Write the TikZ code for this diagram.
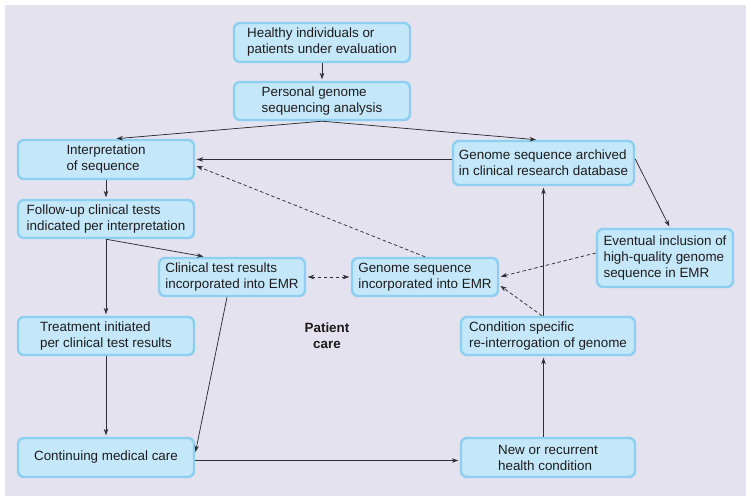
\documentclass[tikz,border=0pt]{standalone}
\usepackage{fontspec}
\setmainfont{Liberation Sans}
\usetikzlibrary{arrows.meta,shadows,calc}
\definecolor{bgcol}{RGB}{229,226,240}
\definecolor{boxfill}{RGB}{196,232,249}
\definecolor{boxedge}{RGB}{140,207,240}
\definecolor{txtcol}{RGB}{30,27,28}
\definecolor{linecol}{RGB}{45,45,50}
\tikzset{
  box/.style={draw=boxedge, fill=boxfill, line width=2.4pt, rounded corners=6pt,
    align=left, inner sep=2pt, text=txtcol,
    font=\fontsize{13.4}{16}\selectfont,
    drop shadow={opacity=0.15, shadow xshift=0.8pt, shadow yshift=-0.8pt}},
  arr/.style={draw=linecol, line width=0.75pt, -{Stealth[length=6.5pt,width=4.5pt]}, shorten >=1.5pt},
  darr/.style={arr, dash pattern=on 3.5pt off 2.5pt},
  ddarr/.style={darr, {Stealth[length=6.5pt,width=4.5pt]}-{Stealth[length=6.5pt,width=4.5pt]}, shorten <=1.5pt}
}
\begin{document}
\begin{tikzpicture}[x=1pt,y=-1pt]
\useasboundingbox (0,0) rectangle (751,501);
\fill[white] (0,0) rectangle (751,501);
\fill[bgcol] (5,5) rectangle (746,496);

\node[box, minimum width=176, minimum height=39] (healthy) at (322,42.5) {Healthy individuals or\\patients under evaluation};
\node[box, minimum width=176, minimum height=38] (personal) at (322,101) {Personal genome\\sequencing analysis};
\node[box, minimum width=176, minimum height=39] (interp) at (106,159.5) {Interpretation\\of sequence};
\node[box, minimum width=176, minimum height=38] (followup) at (106,219) {Follow-up clinical tests\\indicated per interpretation};
\node[box, minimum width=176, minimum height=38] (treatment) at (106,336) {Treatment initiated\\per clinical test results};
\node[box, minimum width=176, minimum height=39] (continuing) at (106,457.5) {Continuing medical care};
\node[box, minimum width=181, minimum height=44] (archived) at (543.5,163) {Genome sequence archived\\in clinical research database};
\node[box, minimum width=146, minimum height=38] (clinical) at (232,277) {Clinical test results\\incorporated into EMR};
\node[box, minimum width=146, minimum height=38] (genomeemr) at (425,277) {Genome sequence\\incorporated into EMR};
\node[box, minimum width=136, minimum height=58] (eventual) at (665,258) {Eventual inclusion of\\high-quality genome\\sequence in EMR};
\node[box, minimum width=174, minimum height=38] (condition) at (548,336) {Condition specific\\re-interrogation of genome};
\node[box, minimum width=174, minimum height=39] (new) at (548,457.5) {New or recurrent\\health condition};
\node[align=center, text=txtcol, font=\fontsize{13.4}{16}\selectfont\bfseries] (care) at (327,336) {Patient\\care};

\draw[arr] (healthy) -- (personal);
\draw[arr] (personal.south) -- ([xshift=9pt]interp.north);
\draw[arr] (personal.south) -- ([xshift=-6pt]archived.north);
\draw[arr] (archived.west |- interp.east) -- (interp.east);
\draw[darr] (genomeemr.north) -- ([yshift=-6pt]interp.east);
\draw[arr] (interp) -- (followup);
\draw[arr] (followup.south) -- (treatment.north);
\draw[arr] (followup.south) -- ([xshift=-27pt]clinical.north);
\draw[ddarr] (clinical.east) -- (genomeemr.west);
\draw[arr] ([xshift=-5pt]clinical.south) -- ([yshift=4pt]continuing.east);
\draw[arr] (treatment) -- (continuing);
\draw[arr] ([yshift=-3pt]continuing.east) -- ([yshift=-3pt]new.west);
\draw[arr] (new.north -| archived.south) -- (condition.south -| archived.south);
\draw[arr] (condition.north -| archived.south) -- (archived.south);
\draw[darr] ([xshift=-6pt]condition.north) -- ([yshift=-8pt]genomeemr.east);
\draw[arr] ([yshift=4pt]archived.east) -- ([xshift=5pt]eventual.north);
\draw[darr] ([yshift=5pt]eventual.west) -- (genomeemr.east);
\end{tikzpicture}
\end{document}
